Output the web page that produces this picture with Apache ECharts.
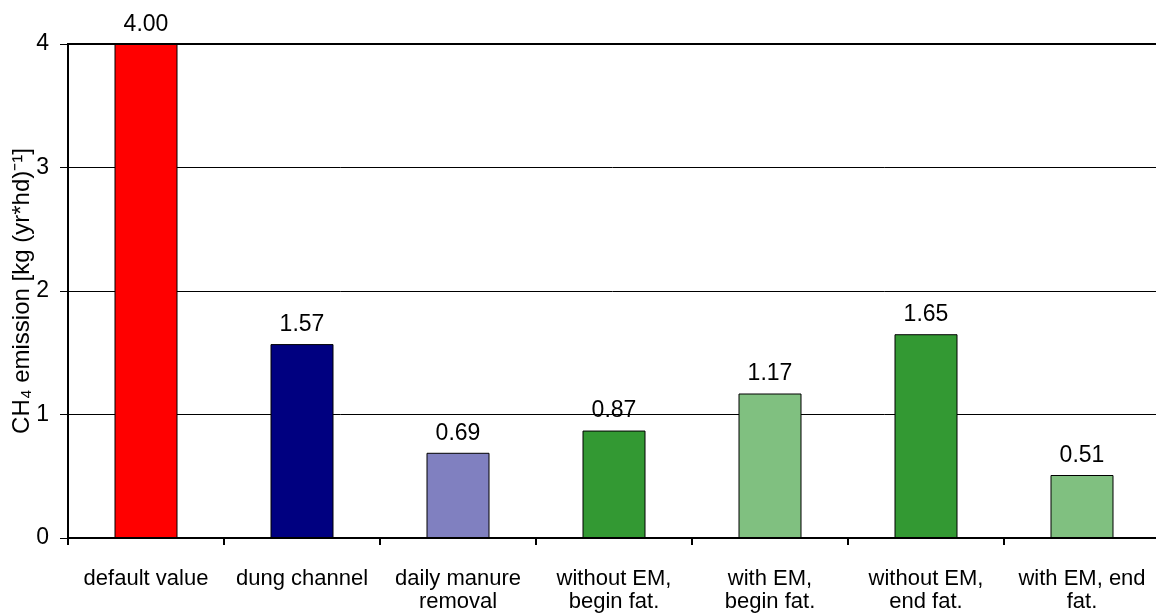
<!DOCTYPE html>
<html>
<head>
<meta charset="utf-8">
<script src="https://cdn.jsdelivr.net/npm/echarts@6/dist/echarts.min.js"></script>
<style>
  html, body { margin: 0; padding: 0; background: #fff; }
  #chart { width: 1156px; height: 614px; }
</style>
</head>
<body>
<div id="chart"></div>
<script>
// Housing / manure management scenarios
const categories = [
  'default value',
  'dung channel',
  'daily manure\nremoval',
  'without EM,\nbegin fat.',
  'with EM,\nbegin fat.',
  'without EM,\nend fat.',
  'with EM, end\nfat.'
];
// CH4 emission per scenario, kg per year and head
const emissions = [4.00, 1.57, 0.69, 0.87, 1.17, 1.65, 0.51];
const barColors = ['#ff0000', '#000080', '#8080c0', '#339933', '#80c080', '#339933', '#80c080'];
const yTicks = [0, 1, 2, 3, 4];

const FONT = '"Liberation Sans", Arial, sans-serif';

const chart = echarts.init(document.getElementById('chart'));
chart.setOption({
  animation: false,
  backgroundColor: '#fff',
  grid: {
    left: 68, top: 44, width: 1092, bottom: 76,
    outerBoundsMode: 'none',
    containLabel: false,
    show: true, borderColor: '#000', borderWidth: 2, backgroundColor: 'transparent'
  },
  xAxis: {
    type: 'category',
    data: categories,
    axisLine: { lineStyle: { color: '#000', width: 2 } },
    axisTick: { show: true, length: 7, lineStyle: { color: '#000', width: 2 }, interval: 0 },
    axisLabel: {
      interval: 0, margin: 29, color: '#000',
      fontFamily: FONT, fontSize: 22, lineHeight: 23
    }
  },
  yAxis: {
    type: 'value',
    min: yTicks[0], max: yTicks[yTicks.length - 1], interval: 1,
    name: 'CH\u2084 emission [kg (yr*hd)\u207B\u00B9]',
    nameLocation: 'middle',
    nameGap: 34,
    nameMoveOverlap: false,
    nameTextStyle: { color: '#000', fontFamily: FONT, fontSize: 24 },
    axisLine: { show: true, lineStyle: { color: '#000', width: 2 } },
    axisTick: { show: true, length: 8, lineStyle: { color: '#000', width: 1 } },
    axisLabel: { margin: 19, color: '#000', fontFamily: FONT, fontSize: 23,
      formatter: v => String(v) },
    splitLine: { show: true, lineStyle: { color: '#000', width: 1 } }
  },
  series: [{
    type: 'bar',
    data: emissions.map((v, i) => ({ value: v, itemStyle: { color: barColors[i] } })),
    barWidth: 63,
    itemStyle: { borderColor: '#000', borderWidth: 1 },
    label: {
      show: true, position: 'top', distance: 8, color: '#000',
      fontFamily: FONT, fontSize: 23,
      formatter: p => p.value.toFixed(2)
    }
  }]
});
</script>
</body>
</html>
